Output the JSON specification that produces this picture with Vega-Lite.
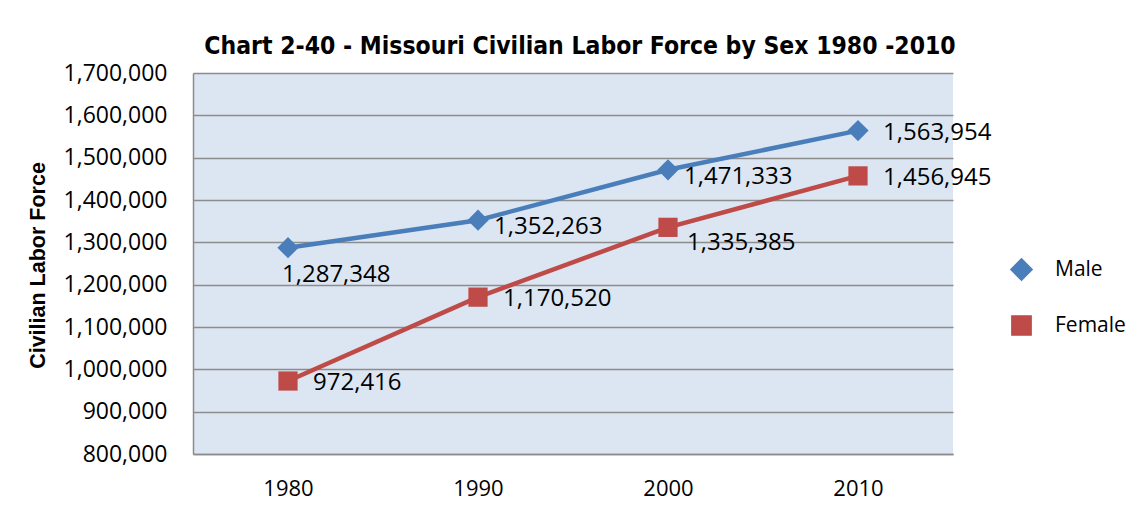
{
  "$schema": "https://vega.github.io/schema/vega-lite/v6.json",
  "width": 760,
  "height": 381,
  "autosize": {"type": "none"},
  "padding": {"left": 193, "top": 73, "right": 194, "bottom": 62},
  "background": "white",
  "config": {"view": {"fill": "#dce6f2", "stroke": null}, "font": "Open Sans"},
  "title": {
    "text": "Chart 2-40 - Missouri Civilian Labor Force by Sex 1980 -2010",
    "font": "Liberation Sans Narrow, DejaVu Sans Condensed, sans-serif",
    "fontSize": 24.5,
    "fontWeight": "bold",
    "color": "black",
    "anchor": "middle",
    "offset": 3,
    "dx": 7
  },
  "data": {
    "values": [
      {"year": "1980", "sex": "Male", "value": 1287348},
      {"year": "1990", "sex": "Male", "value": 1352263},
      {"year": "2000", "sex": "Male", "value": 1471333},
      {"year": "2010", "sex": "Male", "value": 1563954},
      {"year": "1980", "sex": "Female", "value": 972416},
      {"year": "1990", "sex": "Female", "value": 1170520},
      {"year": "2000", "sex": "Female", "value": 1335385},
      {"year": "2010", "sex": "Female", "value": 1456945}
    ]
  },
  "encoding": {
    "x": {
      "field": "year",
      "type": "ordinal",
      "scale": {"type": "point", "padding": 0.5},
      "axis": {
        "title": null,
        "labelAngle": 0,
        "ticks": false,
        "grid": false,
        "domain": true,
        "domainColor": "#8c8c8c",
        "domainWidth": 1.5,
        "labelPadding": 24,
        "labelFontSize": 22,
        "labelColor": "black"
      }
    },
    "y": {
      "field": "value",
      "type": "quantitative",
      "scale": {"domain": [800000, 1700000], "nice": false, "zero": false},
      "axis": {
        "values": [800000, 900000, 1000000, 1100000, 1200000, 1300000, 1400000, 1500000, 1600000, 1700000],
        "format": ",d",
        "ticks": false,
        "domain": true,
        "domainColor": "#8c8c8c",
        "domainWidth": 1.5,
        "grid": true,
        "gridColor": "#8c8c8c",
        "gridWidth": 1.3,
        "labelPadding": 26,
        "labelFontSize": 23,
        "labelColor": "black",
        "title": "Civilian Labor Force",
        "titleFont": "Liberation Sans",
        "titleFontSize": 21.5,
        "titleFontWeight": "bold",
        "titleColor": "black",
        "titleAngle": -90,
        "titleX": -155,
        "titleY": 192,
        "titleAlign": "center",
        "titleBaseline": "middle"
      }
    },
    "color": {
      "field": "sex",
      "type": "nominal",
      "scale": {"domain": ["Male", "Female"], "range": ["#4a7ebb", "#be4b48"]},
      "legend": {
        "title": null,
        "orient": "none",
        "legendX": 817,
        "legendY": 185,
        "padding": 0,
        "labelFontSize": 21,
        "labelColor": "black",
        "labelOffset": 22,
        "rowPadding": 28,
        "symbolSize": 300
      }
    }
  },
  "layer": [
    {"mark": {"type": "line", "strokeWidth": 4.5}},
    {
      "mark": {"type": "point", "filled": true, "opacity": 1},
      "encoding": {
        "shape": {"field": "sex", "type": "nominal", "scale": {"domain": ["Male", "Female"], "range": ["diamond", "square"]}, "legend": null},
        "size": {"field": "sex", "type": "nominal", "scale": {"domain": ["Male", "Female"], "range": [450, 370]}, "legend": null}
      }
    },
    {
      "transform": [{"filter": "(datum.sex === 'Male' && datum.year === '2010') || (datum.sex === 'Female' && datum.year !== '2000')"}],
      "mark": {"type": "text", "align": "left", "baseline": "middle", "dx": 25, "dy": 2, "fontSize": 24},
      "encoding": {"text": {"field": "value", "type": "quantitative", "format": ","}, "color": {"value": "black"}}
    },
    {
      "transform": [{"filter": "datum.sex === 'Male' && (datum.year === '1990' || datum.year === '2000')"}],
      "mark": {"type": "text", "align": "left", "baseline": "middle", "dx": 16, "dy": 7, "fontSize": 24},
      "encoding": {"text": {"field": "value", "type": "quantitative", "format": ","}, "color": {"value": "black"}}
    },
    {
      "transform": [{"filter": "datum.sex === 'Male' && datum.year === '1980'"}],
      "mark": {"type": "text", "align": "left", "baseline": "middle", "dx": -6, "dy": 27, "fontSize": 24},
      "encoding": {"text": {"field": "value", "type": "quantitative", "format": ","}, "color": {"value": "black"}}
    },
    {
      "transform": [{"filter": "datum.sex === 'Female' && datum.year === '2000'"}],
      "mark": {"type": "text", "align": "left", "baseline": "middle", "dx": 19, "dy": 16, "fontSize": 24},
      "encoding": {"text": {"field": "value", "type": "quantitative", "format": ","}, "color": {"value": "black"}}
    }
  ]
}
